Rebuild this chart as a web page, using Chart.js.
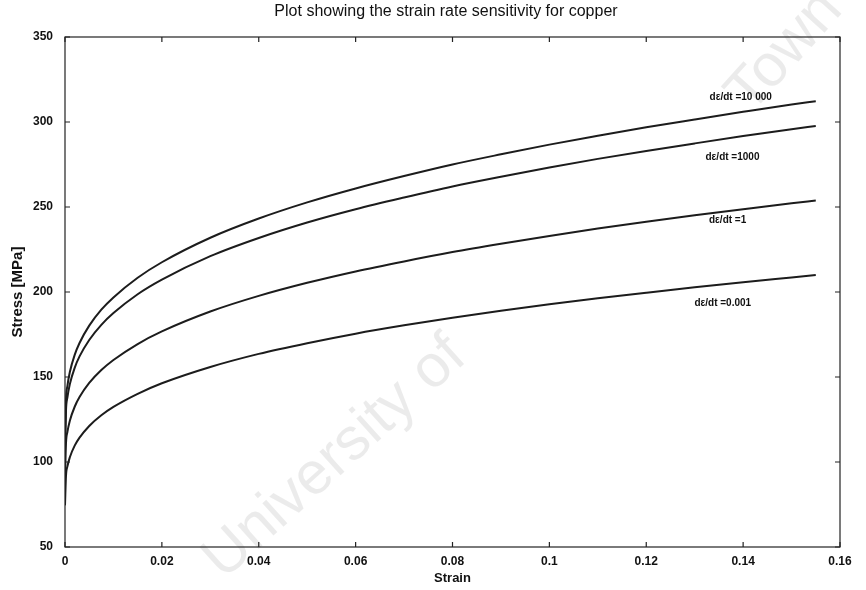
<!DOCTYPE html>
<html>
<head>
<meta charset="utf-8">
<script src="https://cdn.jsdelivr.net/npm/chart.js@4/dist/chart.umd.min.js"></script>
<style>
  html, body { margin: 0; padding: 0; background: #fff; }
  #wrap { width: 866px; height: 590px; }
</style>
</head>
<body>
<div id="wrap"><canvas id="graph"></canvas></div>
<script>
// 歪み (x)
const strain = [0, 0.0002, 0.0005, 0.001, 0.002, 0.003, 0.005, 0.0075, 0.01, 0.015, 0.02, 0.03, 0.04, 0.05,
                0.06, 0.07, 0.08, 0.09, 0.1, 0.11, 0.12, 0.13, 0.14, 0.15, 0.155];

// 応力 [MPa] 歪み速度ごと
const stressRate10000 = [110.7, 136.3, 144.8, 152.9, 163.0, 170.0, 180.2, 189.6, 196.8, 208.4, 217.5, 231.9, 243.2, 252.7,
                         260.9, 268.2, 275.0, 281.0, 286.7, 291.9, 296.9, 301.5, 306.0, 310.3, 312.2];
const stressRate1000  = [105.5, 129.9, 138.0, 145.8, 155.4, 162.1, 171.8, 180.7, 187.6, 198.7, 207.3, 221.1, 231.8, 240.9,
                         248.7, 255.6, 262.1, 267.8, 273.2, 278.3, 283.0, 287.4, 291.7, 295.8, 297.6];
const stressRate1     = [90.0, 110.8, 117.7, 124.3, 132.5, 138.2, 146.5, 154.1, 160.0, 169.4, 176.8, 188.5, 197.7, 205.4,
                         212.1, 218.0, 223.5, 228.4, 233.0, 237.3, 241.3, 245.1, 248.7, 252.2, 253.8];
const stressRate0001  = [74.5, 91.7, 97.4, 102.8, 109.6, 114.3, 121.2, 127.5, 132.4, 140.1, 146.3, 155.9, 163.6, 169.9,
                         175.5, 180.4, 184.9, 189.0, 192.8, 196.3, 199.6, 202.8, 205.8, 208.6, 210.0];

// 目盛りラベル
const xTickLabels = ['0', '0.02', '0.04', '0.06', '0.08', '0.1', '0.12', '0.14', '0.16'];
const yTickValues = [50, 100, 150, 200, 250, 300, 350];

// 曲線ラベル
const curveLabelText = ['d\u03B5/dt =10 000', 'd\u03B5/dt =1000', 'd\u03B5/dt =1', 'd\u03B5/dt =0.001'];
const curveLabelX = [0.1395, 0.1378, 0.1368, 0.1358];
const curveLabelY = [314.5, 279.4, 242.4, 193.5];

const TITLE = 'Plot showing the strain rate sensitivity for copper';
const FONT = '"Liberation Sans", Arial, sans-serif';
const INK = '#111';

function toPoints(ys) {
  return strain.map(function(x, i) { return {x: x, y: ys[i]}; });
}

function lineSet(label, ys) {
  return {
    label: label,
    data: toPoints(ys),
    borderColor: '#1c1c1c',
    borderWidth: 2,
    pointRadius: 0,
    fill: false,
    cubicInterpolationMode: 'monotone'
  };
}

// 透かし文字 (背景)
const watermark = {
  id: 'watermark',
  beforeDraw(chart) {
    const ctx = chart.ctx;
    ctx.save();
    ctx.fillStyle = 'rgba(0,0,0,0.08)';
    ctx.font = '60px ' + FONT;
    ctx.textAlign = 'center';
    ctx.textBaseline = 'middle';
    ctx.translate(335, 458);
    ctx.rotate(-42 * Math.PI / 180);
    ctx.fillText('University of', 0, 0);
    ctx.restore();
    ctx.save();
    ctx.fillStyle = 'rgba(0,0,0,0.08)';
    ctx.font = '60px ' + FONT;
    ctx.textAlign = 'center';
    ctx.textBaseline = 'middle';
    ctx.translate(785, 52);
    ctx.rotate(-48 * Math.PI / 180);
    ctx.fillText('Town', 0, 0);
    ctx.restore();
  }
};

// 枠・内向き目盛り・タイトル・曲線ラベル
const frame = {
  id: 'frame',
  afterDraw(chart) {
    const ctx = chart.ctx;
    const a = chart.chartArea;
    const xs = chart.scales.x;
    const ys = chart.scales.y;
    const len = 5;
    ctx.save();
    ctx.strokeStyle = '#222';
    ctx.lineWidth = 1.2;
    ctx.strokeRect(a.left, a.top, a.right - a.left, a.bottom - a.top);
    ctx.beginPath();
    xs.ticks.forEach(function(t) {
      const px = xs.getPixelForValue(t.value);
      ctx.moveTo(px, a.bottom); ctx.lineTo(px, a.bottom - len);
      ctx.moveTo(px, a.top); ctx.lineTo(px, a.top + len);
    });
    ys.ticks.forEach(function(t) {
      const py = ys.getPixelForValue(t.value);
      ctx.moveTo(a.left, py); ctx.lineTo(a.left + len, py);
      ctx.moveTo(a.right, py); ctx.lineTo(a.right - len, py);
    });
    ctx.stroke();

    ctx.fillStyle = INK;
    ctx.textAlign = 'center';
    ctx.textBaseline = 'middle';
    ctx.font = '16px ' + FONT;
    ctx.fillText(TITLE, 446, 12);

    ctx.font = 'bold 10px ' + FONT;
    curveLabelText.forEach(function(txt, i) {
      ctx.fillText(txt, xs.getPixelForValue(curveLabelX[i]), ys.getPixelForValue(curveLabelY[i]));
    });
    ctx.restore();
  }
};

new Chart(document.getElementById('graph'), {
  type: 'line',
  data: {
    datasets: [
      lineSet('10000', stressRate10000),
      lineSet('1000', stressRate1000),
      lineSet('1', stressRate1),
      lineSet('0.001', stressRate0001)
    ]
  },
  options: {
    responsive: true,
    maintainAspectRatio: false,
    animation: false,
    layout: { padding: { top: 37, right: 26, left: 0, bottom: 0 } },
    plugins: {
      legend: { display: false },
      tooltip: { enabled: false },
      title: { display: false }
    },
    scales: {
      x: {
        type: 'linear',
        min: 0,
        max: 0.16,
        afterBuildTicks(scale) {
          scale.ticks = xTickLabels.map(function(s, i) { return {value: i * 0.02}; });
        },
        ticks: {
          color: INK,
          font: { family: FONT, size: 12, weight: 'bold' },
          padding: 7,
          maxRotation: 0,
          callback: function(v, i) { return xTickLabels[i]; }
        },
        grid: { display: false, drawTicks: false },
        border: { display: false },
        title: { display: true, text: 'Strain', color: INK, font: { family: FONT, size: 13, weight: 'bold' }, padding: { top: 2, bottom: 4 } },
        afterFit(scale) { scale.height = 43; }
      },
      y: {
        type: 'linear',
        min: 50,
        max: 350,
        afterBuildTicks(scale) {
          scale.ticks = yTickValues.map(function(v) { return {value: v}; });
        },
        ticks: {
          color: INK,
          font: { family: FONT, size: 12, weight: 'bold' },
          padding: 12
        },
        grid: { display: false, drawTicks: false },
        border: { display: false },
        title: { display: true, text: 'Stress [MPa]', color: INK, font: { family: FONT, size: 15, weight: 'bold' }, padding: { top: 9, bottom: 4 } },
        afterFit(scale) { scale.width = 65; }
      }
    }
  },
  plugins: [watermark, frame]
});
</script>
</body>
</html>
